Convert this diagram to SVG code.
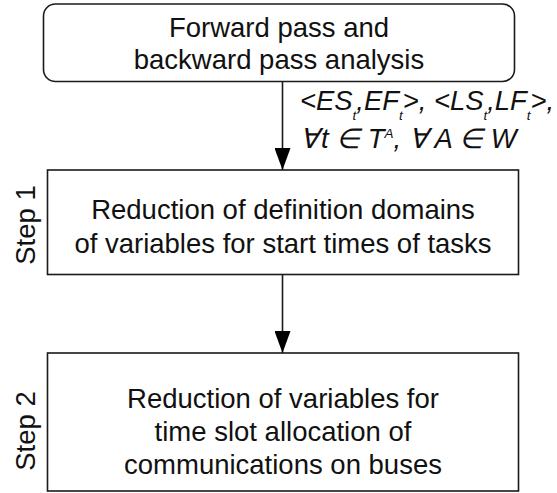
<svg xmlns="http://www.w3.org/2000/svg" width="557" height="493" viewBox="0 0 557 493">
  <style>
    .box { fill: #ffffff; stroke: #1a1a1a; stroke-width: 1.6; }
    .lbl { font-family: "Liberation Sans", Arial, sans-serif; font-size: 27.5px; fill: #111111; text-anchor: middle; }
    .step { font-family: "Liberation Sans", Arial, sans-serif; font-size: 27.5px; fill: #111111; text-anchor: middle; }
    .edge { font-family: "Liberation Sans", Arial, sans-serif; font-size: 27.4px; font-style: italic; fill: #111111; }
    .sub { font-size: 13.5px; }
    .wire { stroke: #1a1a1a; stroke-width: 1.6; fill: none; }
  </style>
  <defs>
    <marker id="arrow" markerWidth="22" markerHeight="16" refX="22" refY="8" orient="auto" markerUnits="userSpaceOnUse" viewBox="0 0 22 16">
      <path d="M0,0 L22,8 L0,16 Z" fill="#000000"/>
    </marker>
  </defs>
  <rect width="557" height="493" fill="#ffffff"/>

  <g id="analysis">
    <rect class="box" x="43.5" y="4" width="471" height="77.5" rx="12" ry="12"/>
    <text class="lbl" x="279" y="37">Forward pass and</text>
    <text class="lbl" x="279" y="69">backward pass analysis</text>
  </g>

  <g id="step1">
    <rect class="box" x="47.5" y="170" width="471" height="104.5"/>
    <text class="lbl" x="283" y="219">Reduction of definition domains</text>
    <text class="lbl" x="283" y="253">of variables for start times of tasks</text>
    <text class="step" transform="translate(35,225) rotate(-90)">Step 1</text>
  </g>

  <g id="step2">
    <rect class="box" x="47.5" y="353" width="471" height="138"/>
    <text class="lbl" x="283" y="408">Reduction of variables for</text>
    <text class="lbl" x="283" y="441">time slot allocation of</text>
    <text class="lbl" x="283" y="474">communications on buses</text>
    <text class="step" transform="translate(35,431) rotate(-90)">Step 2</text>
  </g>

  <g id="connectors">
    <line class="wire" x1="282.5" y1="81.5" x2="282.5" y2="170" marker-end="url(#arrow)"/>
    <line class="wire" x1="282.5" y1="274.5" x2="282.5" y2="353" marker-end="url(#arrow)"/>
    <text class="edge" x="300" y="110">&lt;ES<tspan class="sub" dy="10">t</tspan><tspan dy="-10">,EF</tspan><tspan class="sub" dy="10">t</tspan><tspan dy="-10">&gt;, &lt;LS</tspan><tspan class="sub" dy="10">t</tspan><tspan dy="-10">,LF</tspan><tspan class="sub" dy="10">t</tspan><tspan dy="-10">&gt;,</tspan></text>
    <text class="edge" x="300" y="148">∀<tspan dx="2">t ∈ T</tspan><tspan class="sub" dy="-10">A</tspan><tspan dy="10">, ∀ A ∈ W</tspan></text>
  </g>
</svg>
